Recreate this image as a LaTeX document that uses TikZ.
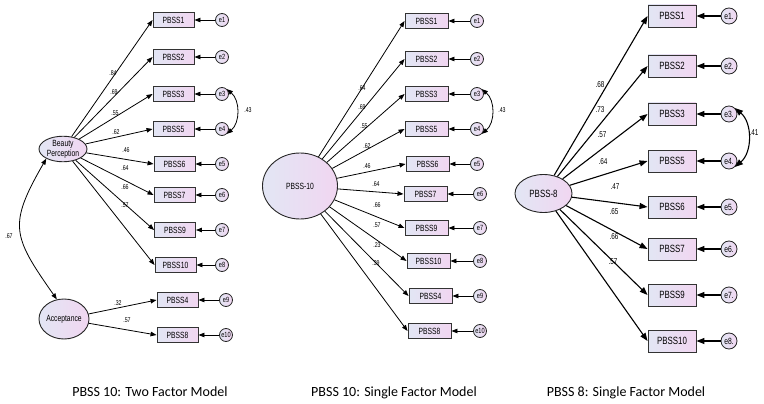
\documentclass[tikz,border=0pt]{standalone}
\usepackage{fontspec}
\setmainfont{Carlito}
\newfontfamily\amosfont[FakeStretch=0.75]{Liberation Sans}
\usetikzlibrary{arrows.meta,shapes.geometric}
\definecolor{amosleft}{RGB}{226,230,244}
\definecolor{amosright}{RGB}{241,214,241}

\begin{document}
\begin{tikzpicture}[x=1pt,y=-1pt,
    item/.style={draw=black!80,line width=0.9pt,left color=amosleft,right color=amosright,minimum width=41pt,minimum height=15pt,inner sep=0pt,font=\amosfont\fontsize{9}{9}\selectfont},
    bigitem/.style={item,minimum width=48pt,minimum height=22pt,font=\amosfont\fontsize{10.5}{10.5}\selectfont},
    err/.style={circle,draw=black!85,line width=0.8pt,left color=amosleft,right color=amosright,minimum size=13pt,inner sep=0pt,font=\amosfont\fontsize{7.5}{7.5}\selectfont},
    bigerr/.style={err,minimum size=16pt,font=\amosfont\fontsize{9}{9}\selectfont},
    factor/.style={ellipse,draw=black!85,line width=0.9pt,left color=amosleft,right color=amosright,inner sep=0pt,align=center,font=\amosfont\fontsize{9}{10}\selectfont},
    load/.style={->,>={Triangle[length=6pt,width=4.5pt]},line width=0.8pt},
    bigload/.style={->,>={Triangle[length=8pt,width=6pt]},line width=1.1pt},
    cov/.style={<->,>={Triangle[length=6pt,width=4.5pt]},line width=0.8pt},
    bigcov/.style={<->,>={Triangle[length=8pt,width=6pt]},line width=1.1pt},
    coef/.style={inner sep=0pt,font=\amosfont\fontsize{7}{7}\selectfont},
    bigcoef/.style={inner sep=0pt,font=\amosfont\fontsize{8.5}{8.5}\selectfont},
    caption/.style={anchor=base,font=\fontsize{14}{14}\selectfont}]

\useasboundingbox (0,0) rectangle (764,404);


\node[factor,minimum width=48pt,minimum height=25pt] (bp) at (63,149) {Beauty\\Perception};
\node[factor,minimum width=50pt,minimum height=40pt] (acc) at (64,319) {Acceptance};

\foreach \k/\i/\f/\y/\bx/\ex/\v/\lx/\ly in {1/1/bp/20/173.5/222/.84/113/73, 2/2/bp/57/173.5/222/.69/114/92,
        3/3/bp/94/173.5/222/.55/115/113, 4/5/bp/129/173.5/222/.62/116/132, 5/6/bp/164/174.5/222/.46/126/150,
        6/7/bp/195/174.5/222/.64/125/168, 7/9/bp/230/175/222/.66/125/187, 8/10/bp/265/175.5/222/.57/125/205,
        9/4/acc/300/177.5/226/.32/118/303, 10/8/acc/335/177.5/226/.57/127/320} {
        \node[item] (a\i) at (\bx,\y) {PBSS\i};
        \node[err] (ae\k) at (\ex,\y) {e\k};
        \draw[load] (ae\k) -- (a\i);
        \draw[load] (\f) -- (a\i.west);
        \node[coef] (al\i) at (\lx,\ly) {\v};
 }

\draw[cov] (ae3.north east) to[bend left=50] (ae4.south east);
\node[coef] (acov) at (248,110) {.43};

\draw[cov] (bp.210) to[out=240,in=125,looseness=1.4] (acc.110);
\node[coef] (rcov) at (9,236) {.67};



\node[factor,minimum width=75pt,minimum height=66pt] (f10) at (300,186) {PBSS-10};

\foreach \k/\i/\y/\bx/\ex/\v/\lx/\ly in {1/1/21/426.5/477/.64/362/88, 2/2/59/426.5/477/.69/362/107,
        3/3/94/426.5/477/.55/364/126, 4/5/129/426.5/477/.62/367/146, 5/6/164/427.5/477/.46/367/166,
        6/7/194/425.5/480/.64/376/184, 7/9/228/426.5/480/.66/377/205, 8/10/261/428.5/480/.57/377/225,
        9/4/296/430.5/480/.23/377/245, 10/8/331/429.5/480/.39/376/263} {
        \node[item,minimum width=43pt] (b\i) at (\bx,\y) {PBSS\i};
        \node[err] (be\k) at (\ex,\y) {e\k};
        \draw[load] (be\k) -- (b\i);
        \draw[load] (f10) -- (b\i.west);
        \node[coef] (bl\i) at (\lx,\ly) {\v};
 }

\draw[cov] (be3.north east) to[bend left=50] (be4.south east);
\node[coef] (bcov) at (502,110) {.43};



\node[factor,minimum width=57pt,minimum height=38pt,font=\amosfont\fontsize{10.5}{10.5}\selectfont] (f8) at (543.5,193.5) {PBSS-8};

\foreach \k/\i/\y/\v/\lx/\ly in {1/1/16/.68/600/85, 2/2/66/.73/600/110, 3/3/114/.57/602/135,
        4/5/161/.64/603/162, 5/6/207/.47/615/187, 6/7/249/.65/614/212,
        7/9/295/.66/614/237, 8/10/341/.57/613/262} {
        \node[bigitem] (c\i) at (672,\y) {PBSS\i};
        \node[bigerr] (ce\k) at (729,\y) {e\k.};
        \draw[bigload] (ce\k) -- (c\i);
        \draw[bigload] (f8) -- (c\i.west);
        \node[bigcoef] (cl\i) at (\lx,\ly) {\v};
 }

\draw[bigcov] (ce3.north east) to[bend left=50] (ce4.south east);
\node[bigcoef] (ccov) at (754,133) {.41};


\node[caption] (cap1) at (150,396) {PBSS 10: Two Factor Model};
\node[caption] (cap2) at (394,396) {PBSS 10: Single Factor Model};
\node[caption] (cap3) at (626,396) {PBSS 8: Single Factor Model};
\end{tikzpicture}
\end{document}
